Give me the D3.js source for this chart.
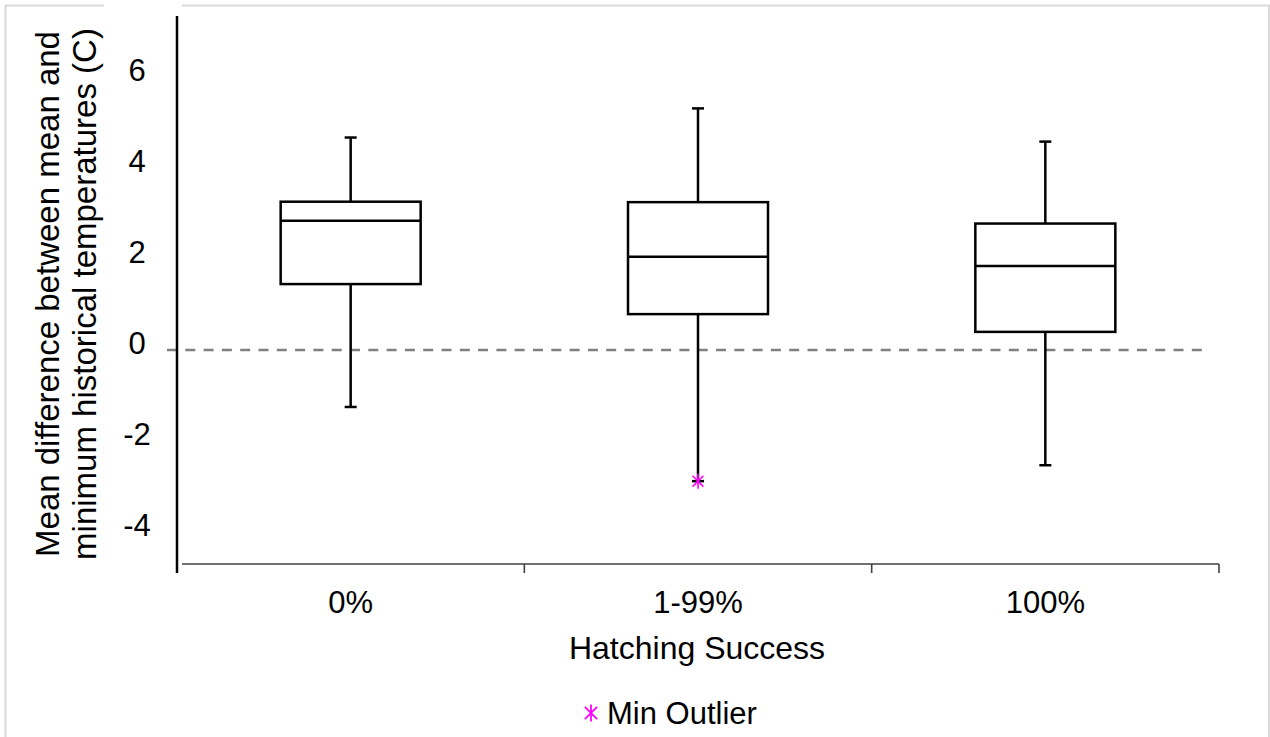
<!DOCTYPE html>
<html>
<head>
<meta charset="utf-8">
<script src="https://cdn.jsdelivr.net/npm/d3@7"></script>
<style>
  body { margin: 0; background: #fff; }
  text { font-family: "Liberation Sans", Arial, sans-serif; fill: #000; }
</style>
</head>
<body>
<div id="chart"></div>
<script>
var width = 1270,
    height = 737;

// data
var categories = ["0%", "1-99%", "100%"];
var whiskerMax = [4.67, 5.31, 4.58];
var q3 = [3.26, 3.25, 2.78];
var medians = [2.84, 2.05, 1.85];
var q1 = [1.45, 0.79, 0.40];
var whiskerMin = [-1.25, -2.88, -2.53];
var minOutliers = [null, -2.88, null];
var yTicks = [6, 4, 2, 0, -2, -4];

var x = d3.scaleBand()
  .domain(categories)
  .range([177, 1219]);

var y = d3.scaleLinear()
  .domain([-4.70, 7.34])
  .range([564, 16]);

var boxW = 140, capW = 12;

var svg = d3.select('#chart').append('svg')
  .attr('width', width)
  .attr('height', height);

// outer frame
svg.append('rect')
  .attr('x', 5.5).attr('y', 5.5)
  .attr('width', 1263.5).attr('height', 740)
  .attr('fill', 'none')
  .attr('stroke', '#d9d9d9')
  .attr('stroke-width', 2);
svg.append('rect')
  .attr('x', 104).attr('y', 0)
  .attr('width', 78).attr('height', 10)
  .attr('fill', '#fff');

// zero reference line
svg.append('line')
  .attr('x1', 167).attr('x2', 1205)
  .attr('y1', y(0)).attr('y2', y(0))
  .attr('stroke', '#808080')
  .attr('stroke-width', 2.5)
  .attr('stroke-dasharray', '10,8.3');

// axes
svg.append('line')
  .attr('x1', 177).attr('x2', 177)
  .attr('y1', y.range()[1]).attr('y2', y.range()[0] + 9)
  .attr('stroke', '#000').attr('stroke-width', 2.5);

svg.append('line')
  .attr('x1', 182).attr('x2', 1219)
  .attr('y1', y.range()[0]).attr('y2', y.range()[0])
  .attr('stroke', '#404040').attr('stroke-width', 1.6);

var edges = categories.slice(1).map(function(c) { return x(c); }).concat([x.range()[1]]);
svg.selectAll('.xtick')
  .data(edges).enter()
  .append('line')
  .attr('x1', function(d) { return d; })
  .attr('x2', function(d) { return d; })
  .attr('y1', y.range()[0])
  .attr('y2', y.range()[0] + 9)
  .attr('stroke', '#404040').attr('stroke-width', 1.6);

svg.selectAll('.ylab')
  .data(yTicks).enter()
  .append('text')
  .attr('x', 137)
  .attr('y', function(d) { return y(d); })
  .attr('dy', '0.14em')
  .attr('text-anchor', 'middle')
  .style('font-size', '31px')
  .text(function(d) { return d; });

svg.selectAll('.xlab')
  .data(categories).enter()
  .append('text')
  .attr('x', function(d) { return x(d) + x.bandwidth() / 2; })
  .attr('y', 613)
  .attr('text-anchor', 'middle')
  .style('font-size', '31px')
  .text(function(d) { return d; });

svg.append('text')
  .attr('x', 697)
  .attr('y', 659)
  .attr('text-anchor', 'middle')
  .style('font-size', '32px')
  .text('Hatching Success');

var yt = svg.append('text')
  .attr('transform', 'translate(0,294) rotate(-90)')
  .attr('text-anchor', 'middle')
  .style('font-size', '33px');
yt.append('tspan').attr('x', 0).attr('y', 59).text('Mean difference between mean and');
yt.append('tspan').attr('x', 0).attr('y', 96).text('minimum historical temperatures (C)');

// boxes
var idx = d3.range(categories.length);
var cx = function(i) { return x(categories[i]) + x.bandwidth() / 2; };

var g = svg.append('g')
  .attr('stroke', '#000')
  .attr('stroke-width', 2.5)
  .attr('fill', 'none');

g.selectAll('.whisk')
  .data(idx).enter()
  .append('line')
  .attr('x1', cx).attr('x2', cx)
  .attr('y1', function(i) { return y(whiskerMax[i]); })
  .attr('y2', function(i) { return y(whiskerMin[i]); });

g.selectAll('.capTop')
  .data(idx).enter()
  .append('line')
  .attr('x1', function(i) { return cx(i) - capW / 2; })
  .attr('x2', function(i) { return cx(i) + capW / 2; })
  .attr('y1', function(i) { return y(whiskerMax[i]); })
  .attr('y2', function(i) { return y(whiskerMax[i]); });

g.selectAll('.capBot')
  .data(idx).enter()
  .append('line')
  .attr('x1', function(i) { return cx(i) - capW / 2; })
  .attr('x2', function(i) { return cx(i) + capW / 2; })
  .attr('y1', function(i) { return y(whiskerMin[i]); })
  .attr('y2', function(i) { return y(whiskerMin[i]); });

g.selectAll('.box')
  .data(idx).enter()
  .append('rect')
  .attr('x', function(i) { return cx(i) - boxW / 2; })
  .attr('y', function(i) { return y(q3[i]); })
  .attr('width', boxW)
  .attr('height', function(i) { return y(q1[i]) - y(q3[i]); })
  .attr('fill', '#fff');

g.selectAll('.med')
  .data(idx).enter()
  .append('line')
  .attr('x1', function(i) { return cx(i) - boxW / 2; })
  .attr('x2', function(i) { return cx(i) + boxW / 2; })
  .attr('y1', function(i) { return y(medians[i]); })
  .attr('y2', function(i) { return y(medians[i]); });

// star marker
function star(r) {
  var p = d3.path(), d = r * 0.72;
  p.moveTo(0, -r); p.lineTo(0, r);
  p.moveTo(-d, -d); p.lineTo(d, d);
  p.moveTo(-d, d); p.lineTo(d, -d);
  return p.toString();
}

svg.selectAll('.outlier')
  .data(idx.filter(function(i) { return minOutliers[i] !== null; })).enter()
  .append('path')
  .attr('transform', function(i) { return 'translate(' + cx(i) + ',' + y(minOutliers[i]) + ')'; })
  .attr('d', star(7.5))
  .attr('fill', 'none')
  .attr('stroke', '#ff00ff')
  .attr('stroke-width', 1.6);

// legend
svg.append('path')
  .attr('transform', 'translate(591,713)')
  .attr('d', star(8.5))
  .attr('fill', 'none')
  .attr('stroke', '#ff00ff')
  .attr('stroke-width', 1.8);
svg.append('text')
  .attr('x', 607)
  .attr('y', 724)
  .style('font-size', '31px')
  .text('Min Outlier');
</script>
</body>
</html>
